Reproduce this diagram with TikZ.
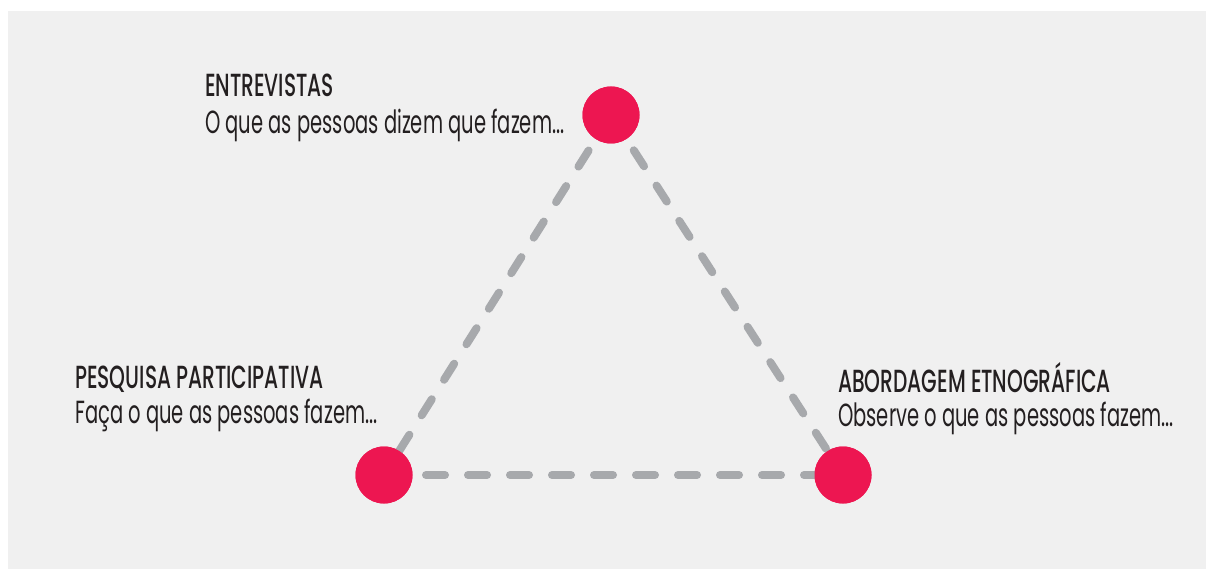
\documentclass[tikz,border=0pt]{standalone}
\usepackage{fontspec}
\usepackage{tikz}
\usetikzlibrary{positioning}
\newfontfamily\headfont[FakeStretch=0.63]{Poppins Medium}
\newfontfamily\subfont[FakeStretch=0.61]{Poppins}
\definecolor{bg}{HTML}{F0F0F0}
\definecolor{dot}{HTML}{ED1651}
\definecolor{dash}{HTML}{A7A9AC}
\definecolor{ink}{HTML}{231F20}
\tikzset{
	method/.style={circle,fill=dot,minimum size=57pt,inner sep=0pt},
	link/.style={draw=dash,line width=8pt,line cap=round,dash pattern=on 19pt off 23pt},
	heading/.style={anchor=base west,inner sep=0pt,text=ink,font=\headfont\fontsize{32}{34}\selectfont},
	caption/.style={anchor=base west,inner sep=0pt,text=ink,font=\subfont\fontsize{32}{34}\selectfont}
}

\begin{document}
\begin{tikzpicture}[x=1pt,y=-1pt]
	\useasboundingbox (0,0) rectangle (1206,569);
	\fill[white] (0,0) rectangle (1206,569);
	\fill[bg] (8,11) rectangle (1207,570);
	% the three methods
	\node[method] (entr) at (611,115) {};
	\node[method] (pesq) at (384,475) {};
	\node[method] (abor) at (843,475) {};
	% dashed triangle, then the dots again on top
	\path[link] (entr.center) -- (pesq.center);
	\path[link] (entr.center) -- (abor.center);
	\path[link] (pesq.center) -- (abor.center);
	\node[method] at (entr) {};
	\node[method] at (pesq) {};
	\node[method] at (abor) {};
	% labels
	\node[heading] (entrHead) at (205,97) {ENTREVISTAS};
	\node[caption] (entrText) at (205,134) {O que as pessoas dizem que fazem...};
	\node[heading] (pesqHead) at (75,388) {PESQUISA PARTICIPATIVA};
	\node[caption] (pesqText) at (75,423) {Faça o que as pessoas fazem...};
	\node[heading] (aborHead) at (838,392) {ABORDAGEM ETNOGRÁFICA};
	\node[caption] (aborText) at (838,426) {Observe o que as pessoas fazem...};
\end{tikzpicture}
\end{document}
